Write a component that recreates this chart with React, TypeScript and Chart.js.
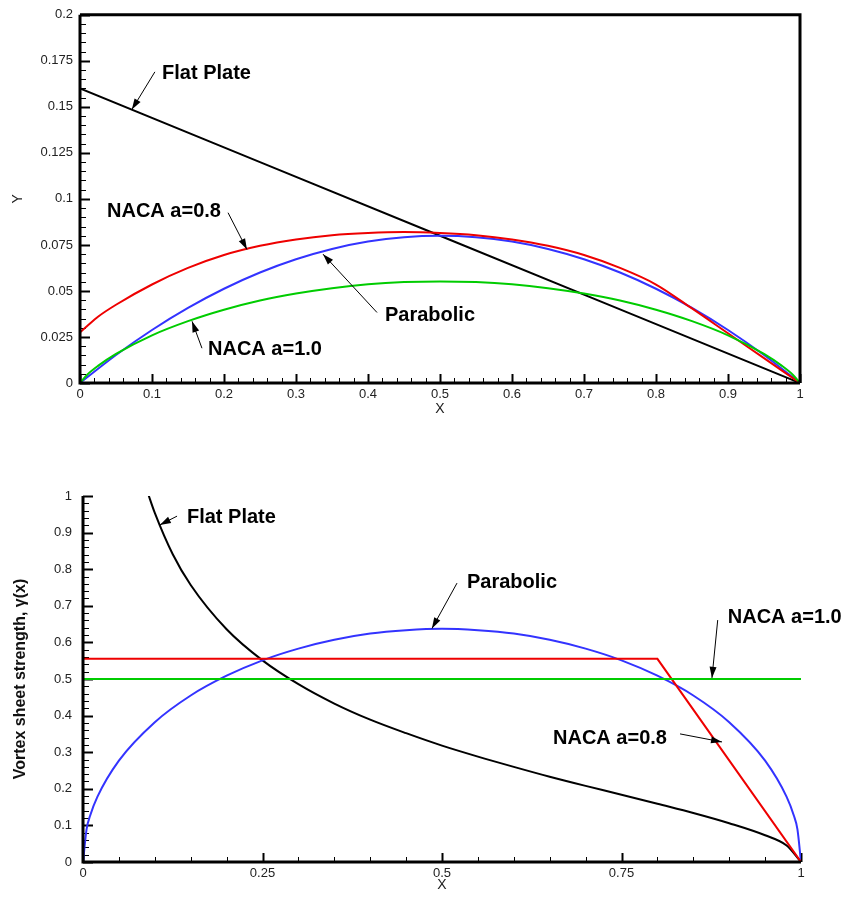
import React, { useEffect, useRef } from "react";
import { Chart, registerables } from "chart.js";
Chart.register(...registerables);

// ---------- Top chart: camber line shapes Y(x) ----------
const flatPlateX = [0, 0.25, 0.5, 0.75, 1];
const flatPlateY = [0.16, 0.12, 0.08, 0.04, 0];

const parabolicX = [0, 0.05, 0.1, 0.15, 0.2, 0.25, 0.3, 0.35, 0.4, 0.45, 0.5, 0.55, 0.6, 0.65, 0.7, 0.75, 0.8, 0.85, 0.9, 0.95, 1];
const parabolicY = [0, 0.0152, 0.0288, 0.0408, 0.0512, 0.06, 0.0672, 0.0728, 0.0768, 0.0792, 0.08, 0.0792, 0.0768, 0.0728, 0.0672, 0.06, 0.0512, 0.0408, 0.0288, 0.0152, 0];

const naca10X = [0, 0.01, 0.025, 0.05, 0.1, 0.15, 0.2, 0.25, 0.3, 0.35, 0.4, 0.45, 0.5, 0.55, 0.6, 0.65, 0.7, 0.75, 0.8, 0.85, 0.9, 0.95, 0.975, 0.99, 1];
const naca10Y = [0, 0.0045, 0.0093, 0.0158, 0.0259, 0.0336, 0.0398, 0.0448, 0.0486, 0.0515, 0.0536, 0.0548, 0.0552, 0.0548, 0.0536, 0.0515, 0.0486, 0.0448, 0.0398, 0.0336, 0.0259, 0.0158, 0.0093, 0.0045, 0];

const naca08X = [0, 0.01, 0.025, 0.05, 0.1, 0.15, 0.2, 0.25, 0.3, 0.35, 0.4, 0.45, 0.5, 0.55, 0.6, 0.65, 0.7, 0.75, 0.8, 0.85, 0.9, 0.95, 1];
const naca08Y = [0.0275, 0.031, 0.036, 0.0425, 0.0535, 0.0625, 0.0695, 0.0745, 0.078, 0.0803, 0.0815, 0.082, 0.0815, 0.0803, 0.078, 0.0745, 0.0695, 0.0625, 0.0535, 0.0405, 0.027, 0.0135, 0];

// ---------- Bottom chart: vortex sheet strength gamma(x) ----------
const flatPlateGX = [0.09, 0.1, 0.125, 0.15, 0.2, 0.25, 0.3, 0.35, 0.4, 0.45, 0.5, 0.55, 0.6, 0.65, 0.7, 0.75, 0.8, 0.85, 0.9, 0.95, 0.98, 1];
const flatPlateGY = [1.01, 0.954, 0.841, 0.757, 0.636, 0.551, 0.486, 0.433, 0.389, 0.352, 0.318, 0.288, 0.26, 0.233, 0.208, 0.184, 0.159, 0.134, 0.106, 0.073, 0.045, 0];

const parabolicGX = [0, 0.005, 0.01, 0.02, 0.05, 0.1, 0.15, 0.2, 0.25, 0.3, 0.35, 0.4, 0.45, 0.5, 0.55, 0.6, 0.65, 0.7, 0.75, 0.8, 0.85, 0.9, 0.95, 0.98, 0.99, 0.995, 1];
const parabolicGY = [0, 0.09, 0.127, 0.178, 0.277, 0.382, 0.455, 0.509, 0.551, 0.583, 0.607, 0.624, 0.633, 0.637, 0.633, 0.624, 0.607, 0.583, 0.551, 0.509, 0.455, 0.382, 0.277, 0.178, 0.127, 0.09, 0];

const naca10GX = [0, 1];
const naca10GY = [0.5, 0.5];

const naca08GX = [0, 0.8, 1];
const naca08GY = [0.555, 0.555, 0];

// tick settings
const topXTicks = { min: 0, max: 1, step: 0.1, minor: 0.02 };
const topYTicks = { min: 0, max: 0.2, step: 0.025, minor: 0.005 };
const botXTicks = { min: 0, max: 1, step: 0.25, minor: 0.05 };
const botYTicks = { min: 0, max: 1, step: 0.1, minor: 0.02 };

// annotation labels (text, label anchor, arrow tail, arrow head), in data units
type Ann = { text: string; tx: number; ty: number; x1: number; y1: number; x2: number; y2: number };
const topAnnotations: Ann[] = [
  { text: "Flat Plate", tx: 0.114, ty: 0.168, x1: 0.104, y1: 0.169, x2: 0.072, y2: 0.1485 },
  { text: "NACA a=0.8", tx: 0.0375, ty: 0.0933, x1: 0.2056, y1: 0.0925, x2: 0.2319, y2: 0.0725 },
  { text: "Parabolic", tx: 0.4236, ty: 0.0367, x1: 0.4125, y1: 0.0383, x2: 0.3375, y2: 0.07 },
  { text: "NACA a=1.0", tx: 0.1778, ty: 0.0183, x1: 0.1694, y1: 0.0189, x2: 0.1556, y2: 0.0335 },
];
const botAnnotations: Ann[] = [
  { text: "Flat Plate", tx: 0.1448, ty: 0.94, x1: 0.131, y1: 0.945, x2: 0.107, y2: 0.921 },
  { text: "Parabolic", tx: 0.5348, ty: 0.765, x1: 0.5209, y1: 0.762, x2: 0.486, y2: 0.638 },
  { text: "NACA a=1.0", tx: 0.898, ty: 0.669, x1: 0.884, y1: 0.661, x2: 0.876, y2: 0.503 },
  { text: "NACA a=0.8", tx: 0.6546, ty: 0.337, x1: 0.8315, y1: 0.35, x2: 0.89, y2: 0.328 },
];

const FONT = "'Liberation Sans', Arial, Helvetica, sans-serif";

function pts(xs: number[], ys: number[]) {
  return xs.map((x, i) => ({ x, y: ys[i] }));
}

const decorPlugin = {
  id: "decor",
  beforeDatasetsDraw(chart: any, _args: any, opts: any) {
    const ctx = chart.ctx;
    const xs = chart.scales.x;
    const ys = chart.scales.y;
    const ca = chart.chartArea;
    ctx.save();
    ctx.strokeStyle = "#000";
    const xt = opts.xTicks;
    const nX = Math.round((xt.max - xt.min) / xt.minor);
    for (let i = 0; i <= nX; i++) {
      const v = xt.min + i * xt.minor;
      const isMajor = Math.abs(v / xt.step - Math.round(v / xt.step)) < 1e-6;
      const px = Math.round(xs.getPixelForValue(v)) + 0.5;
      ctx.lineWidth = isMajor ? 2 : 1;
      const len = isMajor ? 9 : 5;
      ctx.beginPath();
      ctx.moveTo(px, ca.bottom);
      ctx.lineTo(px, ca.bottom - len);
      ctx.stroke();
    }
    const yt = opts.yTicks;
    const nY = Math.round((yt.max - yt.min) / yt.minor);
    for (let i = 0; i <= nY; i++) {
      const v = yt.min + i * yt.minor;
      const isMajor = Math.abs(v / yt.step - Math.round(v / yt.step)) < 1e-6;
      const py = Math.round(ys.getPixelForValue(v)) + 0.5;
      ctx.lineWidth = isMajor ? 2 : 1;
      const len = isMajor ? 10 : 6;
      ctx.beginPath();
      ctx.moveTo(ca.left, py);
      ctx.lineTo(ca.left + len, py);
      ctx.stroke();
    }
    ctx.restore();
  },
  afterDatasetsDraw(chart: any, _args: any, opts: any) {
    const ctx = chart.ctx;
    const xs = chart.scales.x;
    const ys = chart.scales.y;
    const ca = chart.chartArea;
    ctx.save();
    ctx.strokeStyle = "#000";
    ctx.lineWidth = 3;
    if (opts.frame) {
      ctx.beginPath();
      ctx.moveTo(ca.left, ca.top);
      ctx.lineTo(ca.right, ca.top);
      ctx.lineTo(ca.right, ca.bottom);
      ctx.stroke();
    }
    ctx.beginPath();
    ctx.moveTo(ca.left, ca.top);
    ctx.lineTo(ca.left, ca.bottom);
    ctx.lineTo(ca.right, ca.bottom);
    ctx.stroke();

    for (const a of opts.annotations as Ann[]) {
      const x1 = xs.getPixelForValue(a.x1);
      const y1 = ys.getPixelForValue(a.y1);
      const x2 = xs.getPixelForValue(a.x2);
      const y2 = ys.getPixelForValue(a.y2);
      ctx.strokeStyle = "#000";
      ctx.fillStyle = "#000";
      ctx.lineWidth = 1;
      ctx.beginPath();
      ctx.moveTo(x1, y1);
      ctx.lineTo(x2, y2);
      ctx.stroke();
      const ang = Math.atan2(y2 - y1, x2 - x1);
      const L = 11;
      const W = 3.5;
      const bx = x2 - L * Math.cos(ang);
      const by = y2 - L * Math.sin(ang);
      ctx.beginPath();
      ctx.moveTo(x2, y2);
      ctx.lineTo(bx + W * Math.sin(ang), by - W * Math.cos(ang));
      ctx.lineTo(bx - W * Math.sin(ang), by + W * Math.cos(ang));
      ctx.closePath();
      ctx.fill();

      ctx.font = `bold 20px ${FONT}`;
      ctx.textAlign = "left";
      ctx.textBaseline = "middle";
      ctx.fillText(a.text, xs.getPixelForValue(a.tx), ys.getPixelForValue(a.ty));
    }
    ctx.restore();
  },
};

function fmt(v: number) {
  return String(Number(v.toFixed(4)));
}

function makeScales(xt: any, yt: any, xAxisH: number, yAxisW: number, xTitle: any, yTitle: any, yPad: number, xPad: number) {
  return {
    x: {
      type: "linear",
      min: xt.min,
      max: xt.max,
      afterFit: (s: any) => {
        s.height = xAxisH;
      },
      grid: { display: false, drawTicks: false },
      border: { display: false },
      ticks: {
        stepSize: xt.step,
        padding: xPad,
        color: "#222",
        font: { family: FONT, size: 13 },
        maxRotation: 0,
        autoSkip: false,
        callback: (v: any) => fmt(Number(v)),
      },
      title: xTitle,
    },
    y: {
      type: "linear",
      min: yt.min,
      max: yt.max,
      afterFit: (s: any) => {
        s.width = yAxisW;
      },
      grid: { display: false, drawTicks: false },
      border: { display: false },
      ticks: {
        stepSize: yt.step,
        padding: yPad,
        color: "#222",
        font: { family: FONT, size: 13 },
        autoSkip: false,
        callback: (v: any) => fmt(Number(v)),
      },
      title: yTitle,
    },
  };
}

function line(label: string, xs: number[], ys: number[], color: string, smooth: boolean) {
  return {
    label,
    data: pts(xs, ys),
    borderColor: color,
    backgroundColor: color,
    borderWidth: 2,
    pointRadius: 0,
    fill: false,
    tension: 0,
    cubicInterpolationMode: smooth ? "monotone" : "default",
  };
}

export default function App() {
  const topRef = useRef<HTMLCanvasElement | null>(null);
  const botRef = useRef<HTMLCanvasElement | null>(null);

  useEffect(() => {
    document.body.style.margin = "0";
    const top = new Chart(topRef.current as HTMLCanvasElement, {
      type: "line",
      data: {
        datasets: [
          line("NACA a=1.0", naca10X, naca10Y, "#00cc00", true),
          line("NACA a=0.8", naca08X, naca08Y, "#ee0000", true),
          line("Parabolic", parabolicX, parabolicY, "#3333ff", true),
          line("Flat Plate", flatPlateX, flatPlateY, "#000000", false),
        ] as any,
      },
      options: {
        animation: false,
        responsive: false,
        maintainAspectRatio: false,
        parsing: false as any,
        layout: { padding: { top: 12, right: 52, left: 0, bottom: 0 } },
        plugins: {
          legend: { display: false },
          tooltip: { enabled: false },
          decor: { frame: true, annotations: topAnnotations, xTicks: topXTicks, yTicks: topYTicks },
        } as any,
        scales: makeScales(
          topXTicks,
          topYTicks,
          47,
          80,
          { display: true, text: "X", color: "#222", font: { family: FONT, size: 14 }, padding: { top: 0, bottom: 12 } },
          { display: true, text: "Y", color: "#222", font: { family: FONT, size: 14 }, padding: { top: 10, bottom: 0 } },
          7,
          4
        ) as any,
      },
      plugins: [decorPlugin],
    });

    const bot = new Chart(botRef.current as HTMLCanvasElement, {
      type: "line",
      data: {
        datasets: [
          line("NACA a=1.0", naca10GX, naca10GY, "#00cc00", false),
          line("NACA a=0.8", naca08GX, naca08GY, "#ee0000", false),
          line("Parabolic", parabolicGX, parabolicGY, "#3333ff", true),
          line("Flat Plate", flatPlateGX, flatPlateGY, "#000000", true),
        ] as any,
      },
      options: {
        animation: false,
        responsive: false,
        maintainAspectRatio: false,
        parsing: false as any,
        layout: { padding: { top: 66, right: 51, left: 0, bottom: 0 } },
        plugins: {
          legend: { display: false },
          tooltip: { enabled: false },
          decor: { frame: false, annotations: botAnnotations, xTicks: botXTicks, yTicks: botYTicks },
        } as any,
        scales: makeScales(
          botXTicks,
          botYTicks,
          36,
          83,
          { display: true, text: "X", color: "#222", font: { family: FONT, size: 14 }, padding: { top: 0, bottom: 4 } },
          {
            display: true,
            text: "Vortex sheet strength, γ(x)",
            color: "#111",
            font: { family: FONT, size: 16, weight: "bold" },
            padding: { top: 11, bottom: 0 },
          },
          11,
          4
        ) as any,
      },
      plugins: [decorPlugin],
    });

    return () => {
      top.destroy();
      bot.destroy();
    };
  }, []);

  return (
    <div style={{ position: "absolute", left: 0, top: 0, width: 852, height: 898, overflow: "hidden", background: "#fff" }}>
      <canvas ref={topRef} width={852} height={430} style={{ position: "absolute", left: 0, top: 0, display: "block" }} />
      <canvas ref={botRef} width={852} height={468} style={{ position: "absolute", left: 0, top: 430, display: "block" }} />
    </div>
  );
}
